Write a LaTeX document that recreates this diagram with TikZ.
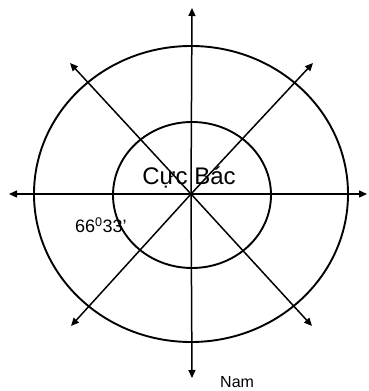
\documentclass[tikz,border=0pt]{standalone}
\usepackage{fontspec}
\setmainfont{Liberation Sans}
\usetikzlibrary{arrows.meta,positioning,calc}

\begin{document}
\begin{tikzpicture}[x=1pt, y=1pt,
  ring/.style={draw, line width=1.9pt},
  ray/.style={line width=1.5pt, -{Triangle[length=8pt, width=7pt]}},
  lbl/.style={inner sep=0pt, anchor=base west}]

  \useasboundingbox (0,0) rectangle (368,391);

  % centre and ends of the rays
  \coordinate (pole) at (191,197);
  \coordinate (north) at (192,383);
  \coordinate (south) at (192,13);
  \coordinate (west)  at (9,197);
  \coordinate (east)  at (367,197);
  \coordinate (nw) at (70,328);
  \coordinate (ne) at (313,328);
  \coordinate (sw) at (71,65);
  \coordinate (se) at (312,65);

  % circles
  \draw[ring] (pole) ellipse [x radius=157, y radius=148];
  \draw[ring] ($(pole)+(1,-1)$) ellipse [x radius=79, y radius=73];

  % rays
  \foreach \e in {north,south,west,east,nw,ne,sw,se}
    \draw[ray] (pole) -- (\e);

  \node[font=\fontsize{24}{27}\selectfont, anchor=base] (pole label) at (189,206) {Cực Bác};
  \node[lbl, font=\fontsize{18}{21}\selectfont] (angle) at (75,158) {66\textsuperscript{0}33’};
  \node[lbl, font=\fontsize{16}{19}\selectfont] (nam) at (220,4) {Nam};
\end{tikzpicture}
\end{document}
